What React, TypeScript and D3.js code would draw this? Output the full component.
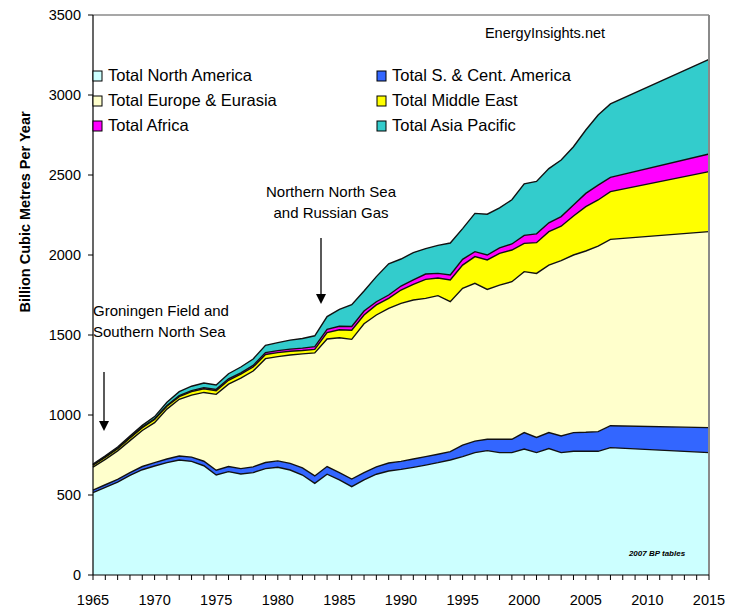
import React from 'react';
import * as d3 from 'd3';

// years (annual to 2007, then a 2015 point)
const years = [
  1965, 1966, 1967, 1968, 1969, 1970, 1971, 1972, 1973, 1974,
  1975, 1976, 1977, 1978, 1979, 1980, 1981, 1982, 1983, 1984,
  1985, 1986, 1987, 1988, 1989, 1990, 1991, 1992, 1993, 1994,
  1995, 1996, 1997, 1998, 1999, 2000, 2001, 2002, 2003, 2004,
  2005, 2006, 2007, 2015
];

// billion cubic metres per year, by region
const northAmerica = [
  515, 548, 580, 622, 658, 681, 702, 719, 710, 683,
  625, 646, 631, 640, 665, 673, 656, 625, 573, 630,
  595, 552, 594, 630, 650, 660, 673, 687, 702, 719,
  740, 765, 777, 765, 765, 787, 765, 790, 765, 773,
  773, 773, 796, 765
];
const southCentAmerica = [
  15, 16, 17, 18, 20, 21, 23, 25, 27, 28,
  30, 32, 34, 36, 38, 40, 42, 44, 46, 48,
  45, 48, 46, 46, 50, 50, 52, 53, 53, 52,
  72, 72, 71, 83, 83, 103, 95, 100, 104, 117,
  119, 123, 137, 156
];
const europeEurasia = [
  144, 159, 179, 200, 225, 250, 312, 354, 387, 430,
  474, 515, 565, 599, 649, 652, 677, 713, 769, 797,
  843, 873, 930, 949, 967, 988, 994, 989, 991, 937,
  980, 986, 937, 964, 985, 1006, 1025, 1047, 1096, 1110,
  1133, 1160, 1165, 1225
];
const middleEast = [
  12, 13, 14, 16, 18, 20, 18, 17, 22, 23,
  23, 24, 25, 25, 26, 25, 23, 21, 22, 40,
  50, 57, 55, 63, 62, 83, 98, 119, 110, 136,
  145, 167, 184, 198, 198, 177, 192, 209, 215, 244,
  277, 288, 298, 375
];
const africa = [
  2, 2, 2, 3, 3, 4, 5, 6, 6, 7,
  8, 9, 9, 10, 12, 12, 14, 15, 17, 20,
  22, 23, 25, 20, 21, 25, 27, 33, 29, 31,
  36, 31, 31, 35, 38, 50, 55, 55, 60, 68,
  83, 93, 89, 110
];
const asiaPacific = [
  6, 7, 8, 9, 11, 14, 20, 25, 28, 29,
  28, 32, 36, 40, 45, 50, 56, 60, 68, 80,
  105, 137, 125, 157, 195, 169, 171, 159, 175, 200,
  192, 239, 255, 250, 276, 322, 328, 339, 354, 365,
  396, 438, 459, 592
];

const seriesNames = [
  'Total North America',
  'Total S. & Cent. America',
  'Total Europe & Eurasia',
  'Total Middle East',
  'Total Africa',
  'Total Asia Pacific'
];
const seriesValues = [northAmerica, southCentAmerica, europeEurasia, middleEast, africa, asiaPacific];
const colors = ['#ccffff', '#3366ff', '#ffffcc', '#ffff00', '#ff00ff', '#33cccc'];

// legend is laid out row by row, two columns
const legendOrder = [0, 1, 2, 3, 4, 5];

export default function App() {
  const width = 729, height = 609;
  const left = 93, right = 709, top = 15, bottom = 575;

  const x = d3.scaleLinear().domain([1965, 2015]).range([left, right]);
  const y = d3.scaleLinear().domain([0, 3500]).range([bottom, top]);

  const rows = years.map((yr, i) => {
    const r: any = { year: yr };
    seriesNames.forEach((n, k) => { r[n] = seriesValues[k][i]; });
    return r;
  });
  const stacked = d3.stack().keys(seriesNames)(rows);

  const area = d3.area<any>()
    .x(d => x(d.data.year))
    .y0(d => y(d[0]))
    .y1(d => y(d[1]));
  const topLine = d3.line<any>()
    .x(d => x(d.data.year))
    .y(d => y(d[1]));

  const yTicks = y.ticks(7);
  const xTicks = d3.range(1965, 2016);
  const font = '"Liberation Sans", Arial, sans-serif';

  return (
    <svg width={width} height={height} style={{ position: 'absolute', left: 0, top: 0, background: '#fff' }}
         fontFamily={font}>
      <rect x={0} y={0} width={width} height={height} fill="#fff" />

      {stacked.map((s, i) => (
        <path key={'a' + i} d={area(s) || ''} fill={colors[i]} stroke="none" />
      ))}
      {stacked.map((s, i) => (
        <path key={'l' + i} d={topLine(s) || ''} fill="none" stroke="#111" strokeWidth={1.4} />
      ))}

      {/* plot frame */}
      <line x1={left} x2={right} y1={top} y2={top} stroke="#8a8a8a" strokeWidth={1.5} />
      <line x1={right} x2={right} y1={top} y2={bottom} stroke="#8a8a8a" strokeWidth={2} />

      {/* y axis */}
      <line x1={left} x2={left} y1={top} y2={bottom} stroke="#000" strokeWidth={1.2} />
      {yTicks.map(t => (
        <g key={'yt' + t}>
          <line x1={left - 5} x2={left} y1={y(t)} y2={y(t)} stroke="#000" />
          <text x={left - 12} y={y(t) + 5} textAnchor="end" fontSize={14.5} fill="#000">{t}</text>
        </g>
      ))}
      <text transform={`translate(30,${212}) rotate(-90)`} textAnchor="middle" fontSize={14.5}
            fontWeight="bold" fill="#000">Billion Cubic Metres Per Year</text>

      {/* x axis */}
      <line x1={left} x2={right} y1={bottom} y2={bottom} stroke="#000" strokeWidth={1.2} />
      {xTicks.map(t => (
        <line key={'xt' + t} x1={x(t)} x2={x(t)} y1={bottom} y2={bottom + 5} stroke="#000" />
      ))}
      {xTicks.filter(t => t % 5 === 0).map(t => (
        <text key={'xl' + t} x={x(t)} y={bottom + 30} textAnchor="middle" fontSize={14.5} fill="#000">{t}</text>
      ))}

      {/* legend */}
      {legendOrder.map((k, i) => {
        const col = i % 2, row = Math.floor(i / 2);
        const lx = col === 0 ? 93 : 377;
        const ly = 71 + row * 25;
        return (
          <g key={'lg' + k}>
            <rect x={lx} y={ly} width={9} height={10} fill={colors[k]} stroke="#000" strokeWidth={1} />
            <text x={lx + 15} y={ly + 10} fontSize={16.5} fill="#000">{seriesNames[k]}</text>
          </g>
        );
      })}

      <text x={545} y={38} textAnchor="middle" fontSize={14.5} fill="#000">EnergyInsights.net</text>

      {/* annotations */}
      <text x={93} y={316} fontSize={15} fill="#000">Groningen Field and</text>
      <text x={93} y={337} fontSize={15} fill="#000">Southern North Sea</text>
      <line x1={104} x2={104} y1={372} y2={424} stroke="#000" strokeWidth={1.3} />
      <path d="M99,421 L109,421 L104,431 Z" fill="#000" />

      <text x={331} y={197} textAnchor="middle" fontSize={15} fill="#000">Northern North Sea</text>
      <text x={331} y={218} textAnchor="middle" fontSize={15} fill="#000">and Russian Gas</text>
      <line x1={321} x2={321} y1={238} y2={297} stroke="#000" strokeWidth={1.3} />
      <path d="M316,294 L326,294 L321,304 Z" fill="#000" />

      <text x={657} y={556} textAnchor="middle" fontSize={8} fontStyle="italic" fontWeight="bold"
            fill="#000">2007 BP tables</text>
    </svg>
  );
}
